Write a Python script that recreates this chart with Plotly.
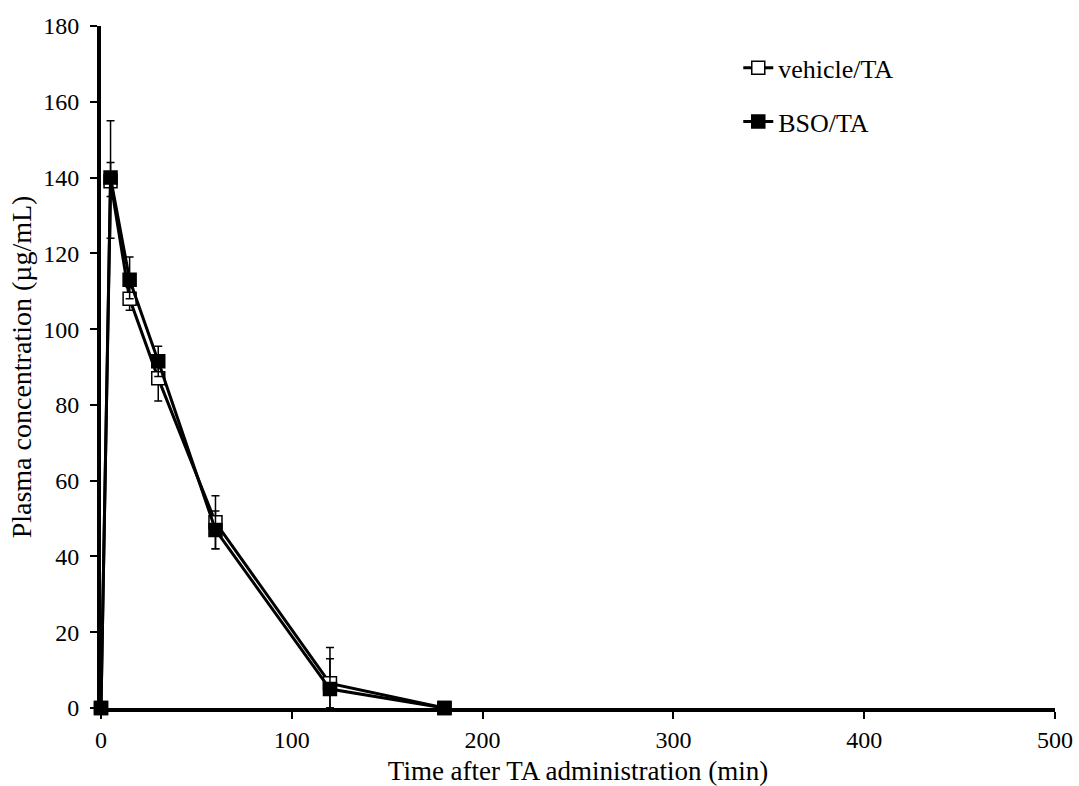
import plotly.graph_objects as go

time_min = [0, 5, 15, 30, 60, 120, 180]
vehicle_ta = [0, 139, 108, 87, 49, 6.5, 0]
vehicle_err_up = [0, 16, 3, 6, 7, 9.5, 0]
vehicle_err_down = [0, 15, 3, 6, 7, 6.5, 0]
bso_ta = [0, 140, 113, 91.5, 47, 5, 0]
bso_err_up = [0, 4, 6, 4, 5, 8, 0]
bso_err_down = [0, 5, 5, 4, 5, 5, 0]

font_family = "Liberation Serif, Times New Roman, serif"

fig = go.Figure()
fig.add_trace(go.Scatter(
    x=time_min, y=vehicle_ta, name="vehicle/TA", mode="lines+markers",
    line=dict(color="black", width=3),
    marker=dict(symbol="square", size=13, color="white", line=dict(color="black", width=1.5)),
    error_y=dict(type="data", symmetric=False, array=vehicle_err_up, arrayminus=vehicle_err_down,
                 color="black", thickness=1.5, width=4),
    cliponaxis=False, legendgroup="a",
))
fig.add_trace(go.Scatter(
    x=time_min, y=bso_ta, name="BSO/TA", mode="lines+markers",
    line=dict(color="black", width=3),
    marker=dict(symbol="square", size=13, color="black", line=dict(color="black", width=1.5)),
    error_y=dict(type="data", symmetric=False, array=bso_err_up, arrayminus=bso_err_down,
                 color="black", thickness=1.5, width=4),
    cliponaxis=False, legendgroup="b",
))

fig.update_layout(
    width=1079, height=786,
    margin=dict(l=101, r=24, t=26, b=78),
    paper_bgcolor="white", plot_bgcolor="white",
    font=dict(family=font_family, size=24, color="black"),
    showlegend=True,
    legend=dict(x=0.668, y=0.973, xanchor="left", yanchor="top", bgcolor="rgba(0,0,0,0)",
                font=dict(size=26), tracegroupgap=17, itemwidth=30),
    xaxis=dict(range=[0, 500], tickvals=[0, 100, 200, 300, 400, 500], showgrid=False, zeroline=False,
               showline=True, linecolor="black", linewidth=4, ticks="outside", ticklen=7,
               tickwidth=2, tickcolor="black", tickfont=dict(size=24), automargin=False,
               title=dict(text="Time after TA administration (min)", font=dict(size=27), standoff=10)),
    yaxis=dict(range=[0, 180], tickvals=list(range(0, 181, 20)), showgrid=False, zeroline=False,
               showline=True, linecolor="black", linewidth=4, ticks="outside", ticklen=7,
               tickwidth=2, tickcolor="black", tickfont=dict(size=24), ticklabelstandoff=6,
               automargin=False,
               title=dict(text="Plasma concentration (µg/mL)", font=dict(size=28), standoff=4)),
)

fig.write_html("out.html")
